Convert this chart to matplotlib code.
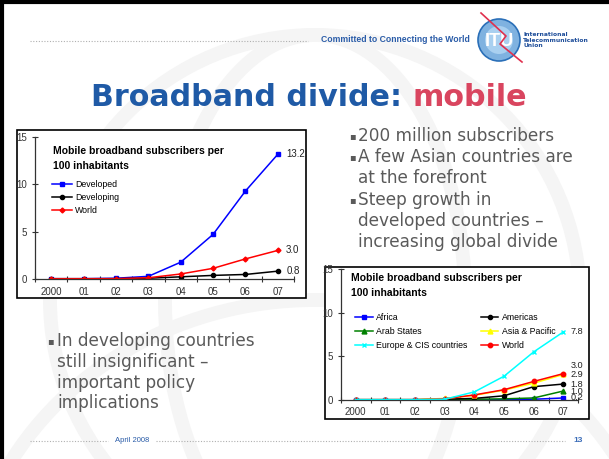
import matplotlib
matplotlib.use("Agg")
import matplotlib.pyplot as plt
from matplotlib.patches import Rectangle, Circle, Ellipse, Arc

# ---------------- data ----------------
years = ["2000", "01", "02", "03", "04", "05", "06", "07"]

developed = [0, 0, 0.05, 0.25, 1.75, 4.7, 9.3, 13.2]
developing = [0, 0, 0, 0.05, 0.2, 0.35, 0.45, 0.8]
world1 = [0, 0, 0, 0.1, 0.5, 1.1, 2.1, 3.0]

africa = [0, 0, 0, 0, 0, 0, 0.05, 0.2]
americas = [0, 0, 0, 0.05, 0.15, 0.45, 1.5, 1.8]
arab = [0, 0, 0, 0, 0.05, 0.1, 0.2, 1.0]
asia = [0, 0, 0, 0.15, 0.5, 1.1, 1.9, 2.9]
europe = [0, 0, 0, 0.05, 0.9, 2.7, 5.5, 7.8]
world2 = [0, 0, 0, 0.1, 0.55, 1.15, 2.1, 3.0]

yticks = [0, 5, 10, 15]

W, H = 609, 459
fig = plt.figure(figsize=(W / 100, H / 100), dpi=100)
fig.patch.set_facecolor("white")

bg = fig.add_axes([0, 0, 1, 1])
bg.set_xlim(0, W)
bg.set_ylim(H, 0)
bg.axis("off")

# faint watermark globe
wm = "#f5f5f5"
bg.add_patch(Circle((315, 300), 265, fill=False, ec=wm, lw=10, zorder=0))
bg.add_patch(Ellipse((315, 300), 300, 530, fill=False, ec=wm, lw=10, zorder=0))
bg.add_patch(Arc((315, 620), 700, 640, theta1=200, theta2=340, ec=wm, lw=10, zorder=0))

# slide frame (top/left)
bg.plot([1.5, 1.5], [0, H], color="black", lw=3, zorder=5)
bg.plot([0, W], [1.5, 1.5], color="black", lw=3, zorder=5)

# header
bg.plot([30, 308], [41, 41], color="#b0b0b0", lw=0.8, ls=(0, (1, 1.5)))
bg.text(470, 40, "Committed to Connecting the World", ha="right", va="center",
        fontsize=6.2, fontweight="bold", color="#2a5ca8", family="Liberation Sans")
bg.add_patch(Circle((499, 40), 21, fc="#7fb2e0", ec="#2a6fb8", lw=1.2, zorder=3))
bg.add_patch(Circle((499, 40), 14, fc="#a9d0f0", ec="none", zorder=3))
bg.text(499, 41, "ITU", ha="center", va="center", fontsize=13, fontweight="bold",
        color="white", family="Liberation Sans", zorder=4)
bg.plot([481, 506, 500, 522], [13, 36, 44, 62], color="#e0304e", lw=1.2, zorder=4)
bg.text(523, 40, "International\nTelecommunication\nUnion", ha="left", va="center",
        fontsize=4.3, fontweight="bold", color="#1f4e9a", family="DejaVu Sans",
        linespacing=1.05)

# title
t1 = bg.text(91, 97, "Broadband divide: ", ha="left", va="center", fontsize=21.7,
             fontweight="bold", color="#1f5aa6", family="DejaVu Sans")
fig.canvas.draw()
xend = t1.get_window_extent().x1
bg.text(xend, 97, "mobile", ha="left", va="center", fontsize=21.7,
        fontweight="bold", color="#d9455f", family="DejaVu Sans")

# bullets right
grey = "#5a5a5a"
bfs = 12.2
rlines = [("▪", "200 million subscribers"), ("▪", "A few Asian countries are"),
          ("", "at the forefront"), ("▪", "Steep growth in"),
          ("", "developed countries –"), ("", "increasing global divide")]
for i, (b, s) in enumerate(rlines):
    y = 136 + i * 21.2
    if b:
        bg.text(349, y, b, ha="left", va="center", fontsize=7, color=grey)
    bg.text(358, y, s, ha="left", va="center", fontsize=bfs, color=grey,
            family="DejaVu Sans")

llines = [("▪", "In developing countries"), ("", "still insignificant –"),
          ("", "important policy"), ("", "implications")]
for i, (b, s) in enumerate(llines):
    y = 341 + i * 20.8
    if b:
        bg.text(47, y, b, ha="left", va="center", fontsize=7, color=grey)
    bg.text(57, y, s, ha="left", va="center", fontsize=bfs, color=grey,
            family="DejaVu Sans")

# footer
bg.plot([30, 108], [441, 441], color="#b0b0b0", lw=0.8, ls=(0, (1, 1.5)))
bg.plot([156, 565], [441, 441], color="#b0b0b0", lw=0.8, ls=(0, (1, 1.5)))
bg.text(132, 441, "April 2008", ha="center", va="center", fontsize=5.5,
        color="#2a5ca8", family="Liberation Sans")
bg.text(578, 440, "13", ha="center", va="center", fontsize=6, fontweight="bold",
        color="#3a6cb8", family="Liberation Sans")

# chart boxes
bg.add_patch(Rectangle((17, 130), 289, 168, fc="white", ec="black", lw=1.2, zorder=2))
bg.add_patch(Rectangle((325, 267), 264, 152, fc="white", ec="black", lw=1.2, zorder=2))


def make_axes(left, right, ytop, ybot, xpad):
    ax = fig.add_axes([left / W, 1 - ybot / H, (right - left) / W, (ybot - ytop) / H])
    ax.set_facecolor("none")
    ax.set_xlim(-0.5, len(years) - 0.5)
    ax.set_ylim(0, 15)
    for s in ["top", "right"]:
        ax.spines[s].set_visible(False)
    for s in ["left", "bottom"]:
        ax.spines[s].set_color("#333333")
        ax.spines[s].set_linewidth(0.9)
    ax.set_yticks(yticks)
    ax.set_yticklabels([str(v) for v in yticks], fontsize=7, family="Liberation Sans")
    ax.tick_params(axis="y", direction="inout", length=5, width=0.8, pad=3,
                   colors="#333333")
    ax.set_xticks(range(len(years)))
    ax.set_xticklabels(years, fontsize=7, family="Liberation Sans")
    ax.tick_params(axis="x", which="major", length=0, pad=xpad, colors="#333333")
    ax.set_xticks([i - 0.5 for i in range(len(years) + 1)], minor=True)
    ax.tick_params(axis="x", which="minor", direction="inout", length=5, width=0.8,
                   colors="#333333")
    return ax


x = list(range(len(years)))
lfont = {"family": "Liberation Sans", "size": 6.3}

# ---------- chart 1 ----------
ax1 = make_axes(35, 294, 137.3, 278.7, 6.3)
ax1.plot(x, developed, color="#0000ff", marker="s", ms=3.5, lw=1.1, label="Developed")
ax1.plot(x, developing, color="black", marker="o", ms=3, lw=1.1, label="Developing")
ax1.plot(x, world1, color="#ff0000", marker="D", ms=2.5, lw=1.1, label="World")
for series in (developed, world1, developing):
    ax1.annotate(f"{series[-1]:.1f}", (x[-1], series[-1]), xytext=(6, 0),
                 textcoords="offset points", ha="left", va="center", fontsize=7,
                 family="Liberation Sans", color="#222222")
bg.text(53, 146, "Mobile broadband subscribers per\n100 inhabitants", ha="left",
        va="top", fontsize=7.5, fontweight="bold", family="Liberation Sans",
        linespacing=1.6, zorder=3)
ax1.legend(loc="upper left", bbox_to_anchor=(52 / W, 1 - 180 / H),
           bbox_transform=fig.transFigure, frameon=False, prop=lfont,
           handlelength=2.3, handletextpad=0.35, labelspacing=0.45, borderpad=0,
           borderaxespad=0)

# ---------- chart 2 ----------
ax2 = make_axes(340.9, 578.2, 269.3, 399.7, 5.6)
ax2.plot(x, africa, color="#0000ff", marker="s", ms=3, lw=1.1, label="Africa")
ax2.plot(x, arab, color="#008000", marker="^", ms=3.5, lw=1.1, label="Arab States")
ax2.plot(x, americas, color="black", marker="o", ms=3, lw=1.1, label="Americas")
ax2.plot(x, asia, color="#ffff00", marker="^", ms=3.5, lw=1.1, label="Asia & Pacific")
ax2.plot(x, world2, color="#ff0000", marker="o", ms=3.2, lw=1.1, label="World")
ax2.plot(x, europe, color="#00ffff", marker="x", ms=3.5, mew=1, lw=1.1,
         label="Europe & CIS countries")
labs2 = [(europe, 0), (world2, 8), (asia, 0), (americas, 0), (arab, 0), (africa, 0)]
for series, dy in labs2:
    ax2.annotate(f"{series[-1]:.1f}", (x[-1], series[-1]), xytext=(5, dy * 0.72),
                 textcoords="offset points", ha="left", va="center", fontsize=6.6,
                 family="Liberation Sans", color="#222222")
bg.text(351, 273, "Mobile broadband subscribers per\n100 inhabitants", ha="left",
        va="top", fontsize=7.5, fontweight="bold", family="Liberation Sans",
        linespacing=1.6, zorder=3)
handles, labels = ax2.get_legend_handles_labels()
order = ["Africa", "Arab States", "Europe & CIS countries", "Americas",
         "Asia & Pacific", "World"]
hmap = dict(zip(labels, handles))
ax2.legend([hmap[k] for k in order], order, ncol=2, loc="upper left",
           bbox_to_anchor=(355 / W, 1 - 313 / H), bbox_transform=fig.transFigure,
           frameon=False, prop=lfont, handlelength=2.0, handletextpad=0.35,
           labelspacing=0.55, columnspacing=1.6, borderpad=0, borderaxespad=0)

fig.savefig("out.png", dpi=100)
